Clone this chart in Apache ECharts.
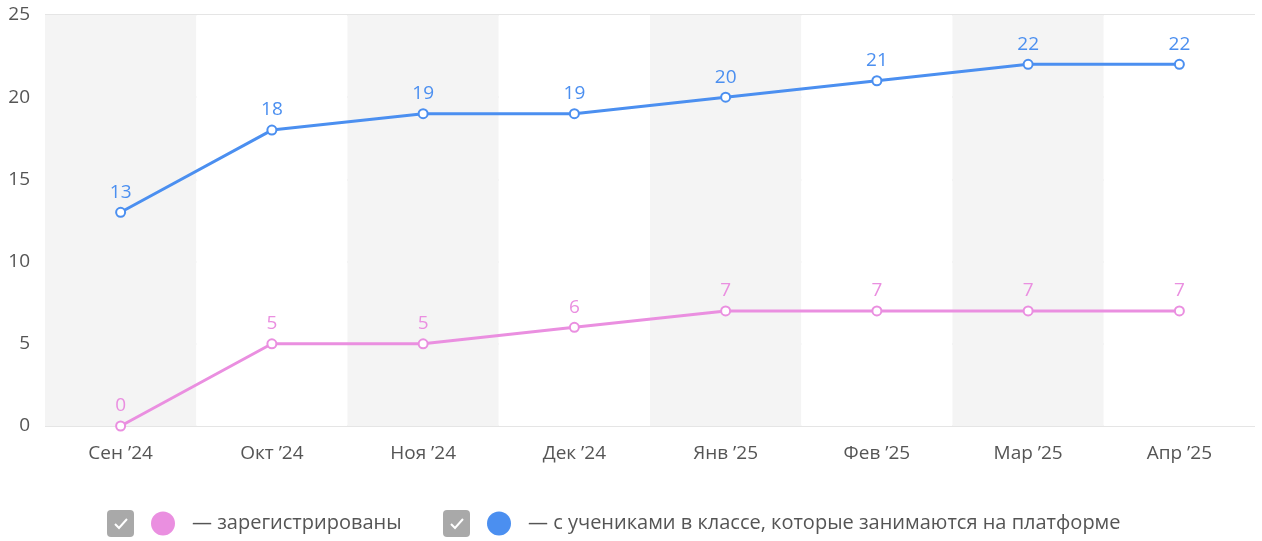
<!DOCTYPE html>
<html>
<head>
<meta charset="utf-8">
<script src="https://cdn.jsdelivr.net/npm/echarts@6/dist/echarts.min.js"></script>
<style>
  html, body { margin: 0; padding: 0; background: #fff; }
  #chart { width: 1262px; height: 541px; }
</style>
</head>
<body>
<div id="chart"></div>
<script>
var months = ['Сен ’24', 'Окт ’24', 'Ноя ’24', 'Дек ’24', 'Янв ’25', 'Фев ’25', 'Мар ’25', 'Апр ’25']
var registered = [0, 5, 5, 6, 7, 7, 7, 7]
var withStudents = [13, 18, 19, 19, 20, 21, 22, 22]
var seriesNames = ['— зарегистрированы', '— с учениками в классе, которые занимаются на платформе']
var colors = ['#ea8fe0', '#4b8ff0']

var chart = echarts.init(document.getElementById('chart'))

// legend: checkbox + dot + text (drawn by hand, like the original)
function legendItem(x, color, text) {
  return {
    type: 'group',
    left: x,
    top: 510,
    children: [
      { type: 'rect', shape: { x: 0, y: 0, width: 27, height: 27, r: 4 }, style: { fill: '#a9a9a9' } },
      { type: 'polyline', shape: { points: [[8, 14], [12, 18], [20, 9]] }, style: { stroke: '#fff', lineWidth: 2, fill: null } },
      { type: 'circle', shape: { cx: 56, cy: 13.5, r: 12 }, style: { fill: color } },
      { type: 'text', x: 85, y: 13.5, style: { text: text, fill: '#555', font: '20px "Open Sans"', verticalAlign: 'middle' } }
    ]
  }
}

chart.setOption({
  textStyle: { fontFamily: 'Open Sans' },
  grid: { left: 45, right: 7, top: 15, bottom: 115 },
  xAxis: {
    type: 'category',
    data: months,
    axisLine: { show: false },
    axisTick: { show: false },
    axisLabel: { color: '#555', fontSize: 19, margin: 18 },
    splitArea: { show: true, areaStyle: { color: ['#f4f4f4', '#ffffff'] } }
  },
  yAxis: {
    type: 'value',
    min: 0,
    max: 25,
    interval: 5,
    axisLabel: { color: '#555', fontSize: 19, margin: 15 },
    splitLine: { lineStyle: { color: '#dcdcdc', width: 1.5 } }
  },
  graphic: [
    legendItem(107, colors[0], seriesNames[0]),
    legendItem(443, colors[1], seriesNames[1])
  ],
  series: [
    {
      name: seriesNames[0],
      type: 'line',
      data: registered,
      color: colors[0],
      symbol: 'emptyCircle',
      symbolSize: 9,
      lineStyle: { width: 3 },
      itemStyle: { borderWidth: 2, color: colors[0] },
      label: { show: true, position: 'top', color: colors[0], fontSize: 19, distance: 5 }
    },
    {
      name: seriesNames[1],
      type: 'line',
      data: withStudents,
      color: colors[1],
      symbol: 'emptyCircle',
      symbolSize: 9,
      lineStyle: { width: 3 },
      itemStyle: { borderWidth: 2, color: colors[1] },
      label: { show: true, position: 'top', color: colors[1], fontSize: 19, distance: 5 }
    }
  ]
})
</script>
</body>
</html>
